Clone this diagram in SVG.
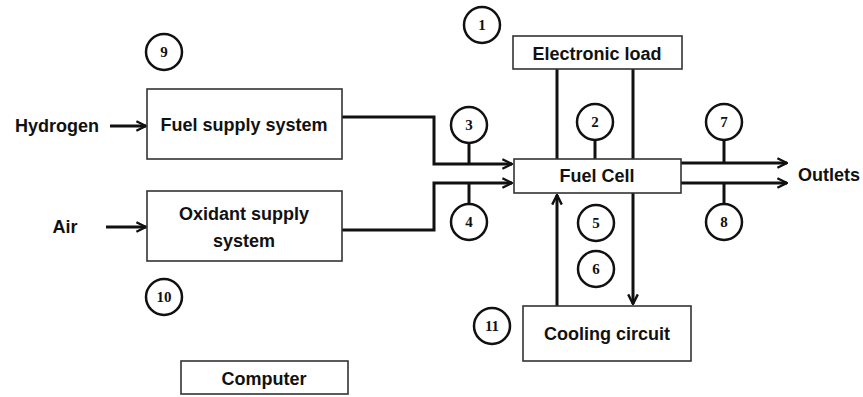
<svg xmlns="http://www.w3.org/2000/svg" width="863" height="397" viewBox="0 0 863 397">
<style>
.box{fill:#fff;stroke:#333;stroke-width:1.6}
.lbl{font-family:"Liberation Sans",Arial,sans-serif;font-weight:bold;font-size:18px;fill:#111;text-anchor:middle}
.num{font-family:"Liberation Serif","Times New Roman",serif;font-weight:bold;font-size:15px;fill:#111;text-anchor:middle}
.circ{fill:#fff;stroke:#111;stroke-width:2.5}
.ln{fill:none;stroke:#111;stroke-width:3}
.arr{fill:none;stroke:#111;stroke-width:3;marker-end:url(#ah)}
</style>
<defs>
<marker id="ah" viewBox="0 0 10 10" refX="9" refY="5" markerWidth="4" markerHeight="4" orient="auto" markerUnits="strokeWidth">
<path d="M1,1 L9,5 L1,9" fill="none" stroke="#111" stroke-width="2"/>
</marker>
</defs>
<rect width="863" height="397" fill="#fff"/>
<g id="connectors">
<line class="arr" x1="110" y1="126" x2="146" y2="126"/>
<line class="arr" x1="106" y1="227" x2="146" y2="227"/>
<polyline class="arr" points="342,117 434,117 434,164 512,164"/>
<polyline class="arr" points="342,230 434,230 434,183 512,183"/>
<line class="ln" x1="557" y1="69" x2="557" y2="159"/>
<line class="ln" x1="633" y1="69" x2="633" y2="159"/>
<line class="arr" x1="681" y1="163" x2="787" y2="163"/>
<line class="arr" x1="681" y1="183" x2="787" y2="183"/>
<line class="arr" x1="557" y1="306" x2="557" y2="195"/>
<line class="arr" x1="633" y1="193" x2="633" y2="304"/>
<line class="ln" x1="469" y1="144" x2="469" y2="164"/>
<line class="ln" x1="469" y1="183" x2="469" y2="203"/>
<line class="ln" x1="595" y1="141" x2="595" y2="159"/>
<line class="ln" x1="724" y1="141" x2="724" y2="163"/>
<line class="ln" x1="724" y1="183" x2="724" y2="203"/>
</g>
<g id="hydrogen"><text class="lbl" x="57" y="132">Hydrogen</text></g>
<g id="air"><text class="lbl" x="65" y="233">Air</text></g>
<g id="outlets"><text class="lbl" x="829" y="181">Outlets</text></g>
<g id="fuel-supply"><rect class="box" x="147" y="89" width="195" height="70"/><text class="lbl" x="244" y="131">Fuel supply system</text></g>
<g id="oxidant-supply"><rect class="box" x="147" y="191" width="195" height="70"/><text class="lbl" x="244" y="220">Oxidant supply</text><text class="lbl" x="244" y="247">system</text></g>
<g id="computer"><rect class="box" x="181" y="361" width="167" height="33"/><text class="lbl" x="264" y="385">Computer</text></g>
<g id="electronic-load"><rect class="box" x="513" y="36" width="169" height="33"/><text class="lbl" x="597" y="60">Electronic load</text></g>
<g id="fuel-cell"><rect class="box" x="514" y="159" width="167" height="34"/><text class="lbl" x="597" y="182">Fuel Cell</text></g>
<g id="cooling-circuit"><rect class="box" x="523" y="306" width="168" height="55"/><text class="lbl" x="607" y="340">Cooling circuit</text></g>
<g id="c1"><circle class="circ" cx="482" cy="25" r="18"/><text class="num" x="482" y="30">1</text></g>
<g id="c2"><circle class="circ" cx="595" cy="122" r="18"/><text class="num" x="595" y="127">2</text></g>
<g id="c3"><circle class="circ" cx="469" cy="125" r="18"/><text class="num" x="469" y="130">3</text></g>
<g id="c4"><circle class="circ" cx="469" cy="222" r="18"/><text class="num" x="469" y="227">4</text></g>
<g id="c5"><circle class="circ" cx="596" cy="223" r="18"/><text class="num" x="596" y="228">5</text></g>
<g id="c6"><circle class="circ" cx="596" cy="269" r="18"/><text class="num" x="596" y="274">6</text></g>
<g id="c7"><circle class="circ" cx="724" cy="122" r="18"/><text class="num" x="724" y="127">7</text></g>
<g id="c8"><circle class="circ" cx="724" cy="222" r="18"/><text class="num" x="724" y="227">8</text></g>
<g id="c9"><circle class="circ" cx="164" cy="52" r="18"/><text class="num" x="164" y="57">9</text></g>
<g id="c10"><circle class="circ" cx="164" cy="297" r="18"/><text class="num" x="164" y="302">10</text></g>
<g id="c11"><circle class="circ" cx="492" cy="326" r="18"/><text class="num" x="492" y="331">11</text></g>
</svg>
